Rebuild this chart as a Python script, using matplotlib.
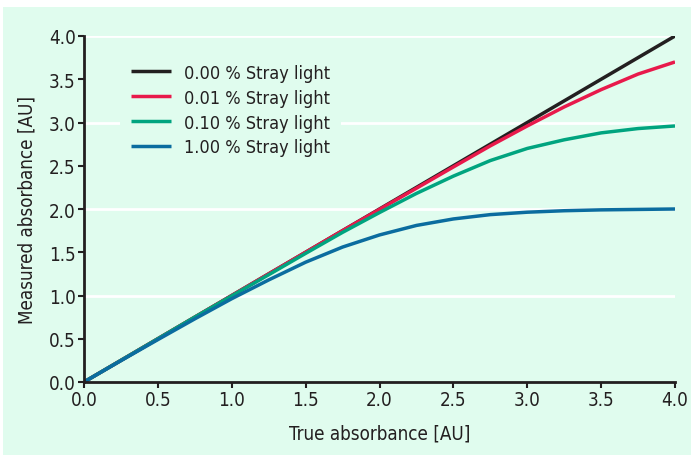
import matplotlib
matplotlib.use("Agg")
import matplotlib.pyplot as plt
import matplotlib.patches as mpatches

plt.rcParams['font.family'] = ['DejaVu Sans']
plt.rcParams['font.stretch'] = 'condensed'

true_abs = [0.0, 0.25, 0.5, 0.75, 1.0, 1.25, 1.5, 1.75, 2.0, 2.25, 2.5, 2.75, 3.0, 3.25, 3.5, 3.75, 4.0]
stray_000 = [0.0, 0.25, 0.5, 0.75, 1.0, 1.25, 1.5, 1.75, 2.0, 2.25, 2.5, 2.75, 3.0, 3.25, 3.5, 3.75, 4.0]
stray_001 = [0.0, 0.25, 0.5, 0.75, 1.0, 1.25, 1.5, 1.75, 1.996, 2.24, 2.486, 2.73, 2.96, 3.18, 3.38, 3.56, 3.70]
stray_010 = [0.0, 0.25, 0.5, 0.75, 0.996, 1.24, 1.487, 1.73, 1.959, 2.18, 2.38, 2.56, 2.70, 2.80, 2.88, 2.93, 2.96]
stray_100 = [0.0, 0.247, 0.49, 0.73, 0.963, 1.18, 1.385, 1.56, 1.70, 1.81, 1.885, 1.935, 1.963, 1.98, 1.99, 1.995, 2.0]
labels = ["0.00 % Stray light", "0.01 % Stray light", "0.10 % Stray light", "1.00 % Stray light"]
colors = ["#231f20", "#e8194b", "#00a47f", "#0b6c9f"]
ticks = [0.0, 0.5, 1.0, 1.5, 2.0, 2.5, 3.0, 3.5, 4.0]

bg = "#e0fcee"
fs = 13
fig = plt.figure(figsize=(6.91, 4.56), dpi=100)
fig.patch.set_facecolor("white")
fig.patches.append(mpatches.Rectangle((3/691, 0), 688/691, 448/456, transform=fig.transFigure,
                                      facecolor=bg, edgecolor="none", zorder=-10))
ax = fig.add_axes([84/691, (456-383)/456, (675-84)/691, (383-37)/456])
ax.set_facecolor(bg)

for y in [1.0, 2.0, 3.0, 4.0]:
    ax.axhline(y, color="white", lw=2, zorder=0.5)

series = [stray_000, stray_001, stray_010, stray_100]
for s, c, l in zip(series, colors, labels):
    ax.plot(true_abs, s, color=c, lw=2.5, label=l, solid_capstyle="butt")

ax.set_xlim(0, 4)
ax.set_ylim(0, 4)
ax.set_xticks(ticks)
ax.set_yticks(ticks)
ax.set_xticklabels([f"{t:.1f}" for t in ticks])
ax.set_yticklabels([f"{t:.1f}" for t in ticks])
for sp in ["top", "right"]:
    ax.spines[sp].set_visible(False)
for sp in ["left", "bottom"]:
    ax.spines[sp].set_color("#231f20")
    ax.spines[sp].set_linewidth(2)
ax.tick_params(direction="out", length=4, width=1.5, color="#231f20", labelsize=13.5, labelcolor="#231f20", pad=2)
ax.set_xlabel("True absorbance [AU]", fontsize=13.5, color="#231f20", labelpad=10)
ax.set_ylabel("Measured absorbance [AU]", fontsize=13.5, color="#231f20", labelpad=9)

leg = ax.legend(loc="upper left", bbox_to_anchor=(0.046, 0.977), frameon=True, fontsize=fs,
                handlelength=2.2, handletextpad=0.75, labelspacing=0.38, borderpad=0.6)
leg.get_frame().set_facecolor(bg)
leg.get_frame().set_edgecolor("none")
leg.get_frame().set_alpha(1)
leg.set_zorder(3)
for t in leg.get_texts():
    t.set_color("#231f20")

fig.savefig("out.png", dpi=100, facecolor="white")
